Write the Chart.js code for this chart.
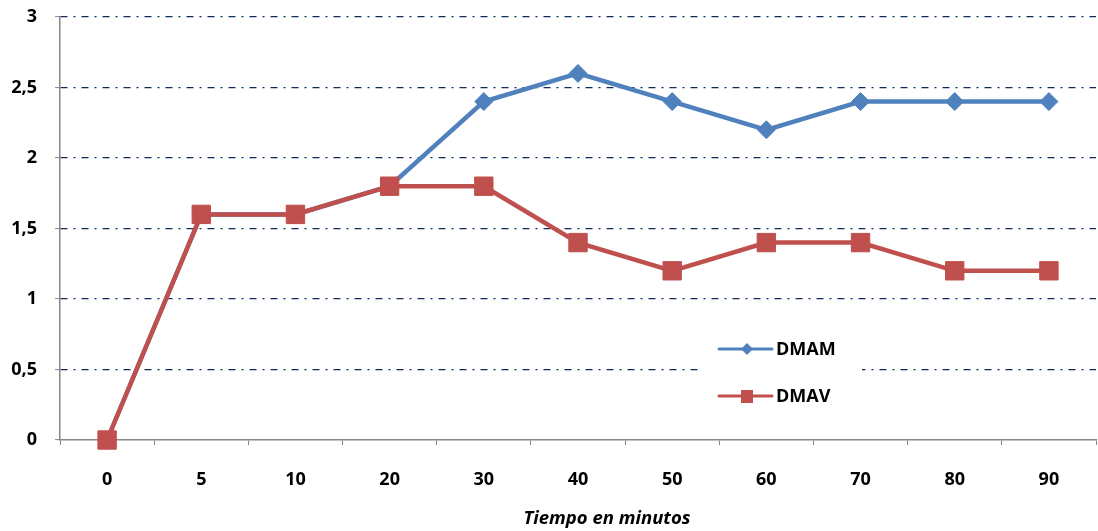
<!DOCTYPE html>
<html>
<head>
<meta charset="utf-8">
<script src="https://cdn.jsdelivr.net/npm/chart.js@4.4.1/dist/chart.umd.min.js"></script>
<style>
  html, body { margin: 0; padding: 0; background: #ffffff; }
  #wrap { width: 1098px; height: 531px; }
</style>
</head>
<body>
<div id="wrap"><canvas id="c" width="1098" height="531"></canvas></div>
<script>
// Minutes after start
const categories = ['0', '5', '10', '20', '30', '40', '50', '60', '70', '80', '90'];
// Series values
const dmam = [0, 1.6, 1.6, 1.8, 2.4, 2.6, 2.4, 2.2, 2.4, 2.4, 2.4];
const dmav = [0, 1.6, 1.6, 1.8, 1.8, 1.4, 1.2, 1.4, 1.4, 1.2, 1.2];
// Value axis
const yMin = 0, yMax = 3, yStep = 0.5;
const xTitle = 'Tiempo en minutos';

const BLUE = '#4F81BD';
const RED = '#C0504D';
const AXIS = '#868686';
const GRID = '#0F2A5C';
const FONT = "'Open Sans', 'Noto Sans', sans-serif";

// Legend drawn inside the plot area, with a line + marker sample per series
const innerLegend = {
  id: 'innerLegend',
  afterDatasetsDraw(chart) {
    const ctx = chart.ctx;
    const ca = chart.chartArea;
    const x0 = ca.left + 659;
    ctx.save();
    ctx.fillStyle = '#ffffff';
    ctx.fillRect(x0 - 19, 326, 162, 88);
    chart.data.datasets.forEach((ds, i) => {
      const y = 349 + i * 47;
      ctx.strokeStyle = ds.borderColor;
      ctx.lineWidth = 3;
      ctx.lineCap = 'round';
      ctx.beginPath();
      ctx.moveTo(x0, y);
      ctx.lineTo(x0 + 53, y);
      ctx.stroke();
      ctx.fillStyle = ds.backgroundColor;
      ctx.beginPath();
      if (ds.pointStyle === 'rectRot') {
        const r = 6;
        ctx.moveTo(x0 + 28, y - r);
        ctx.lineTo(x0 + 28 + r, y);
        ctx.lineTo(x0 + 28, y + r);
        ctx.lineTo(x0 + 28 - r, y);
        ctx.closePath();
        ctx.fill();
      } else {
        ctx.fillRect(x0 + 28 - 6, y - 6, 12, 13);
      }
      ctx.fillStyle = '#000000';
      ctx.font = "bold 18px " + FONT;
      ctx.textAlign = 'left';
      ctx.textBaseline = 'middle';
      ctx.fillText(ds.label, x0 + 57, y + 1);
    });
    ctx.restore();
  }
};

// Axis title placed under the category labels
const axisTitle = {
  id: 'axisTitle',
  afterDraw(chart) {
    const ctx = chart.ctx;
    ctx.save();
    ctx.fillStyle = '#000000';
    ctx.font = "italic bold 18.5px " + FONT;
    ctx.textAlign = 'center';
    ctx.textBaseline = 'middle';
    ctx.fillText(xTitle, 607, 519);
    ctx.restore();
  }
};

new Chart(document.getElementById('c'), {
  type: 'line',
  data: {
    labels: categories,
    datasets: [
      {
        label: 'DMAM',
        data: dmam,
        borderColor: BLUE,
        backgroundColor: BLUE,
        borderWidth: 4.5,
        pointStyle: 'rectRot',
        pointRadius: 9,
        pointBorderWidth: 1,
        pointBorderColor: BLUE,
        pointBackgroundColor: BLUE,
        tension: 0,
        clip: false,
        order: 2
      },
      {
        label: 'DMAV',
        data: dmav,
        borderColor: RED,
        backgroundColor: RED,
        borderWidth: 4.5,
        pointStyle: 'rect',
        pointRadius: 13,
        pointBorderWidth: 1,
        pointBorderColor: RED,
        pointBackgroundColor: RED,
        tension: 0,
        clip: false,
        order: 1
      }
    ]
  },
  options: {
    responsive: false,
    animation: false,
    devicePixelRatio: 1,
    layout: { autoPadding: false, padding: { top: 17, right: 2, left: 0, bottom: 0 } },
    plugins: {
      legend: { display: false },
      tooltip: { enabled: false },
      title: { display: false }
    },
    scales: {
      x: {
        type: 'category',
        offset: true,
        afterFit(scale) {
          scale.height = 91;
          scale.paddingLeft = 0;
          scale.paddingRight = 0;
        },
        grid: {
          display: true,
          offset: true,
          drawOnChartArea: false,
          drawTicks: true,
          tickLength: 5,
          tickColor: AXIS,
          tickWidth: 1,
          tickBorderDash: []
        },
        border: { display: true, color: AXIS, width: 1.5 },
        ticks: {
          color: '#000000',
          font: { family: FONT, size: 18, weight: 'bold' },
          padding: 24,
          maxRotation: 0,
          autoSkip: false
        }
      },
      y: {
        min: yMin,
        max: yMax,
        afterFit(scale) {
          scale.width = 60;
          scale.paddingTop = 0;
          scale.paddingBottom = 0;
        },
        grid: {
          display: true,
          color: ctx => (ctx.tick && ctx.tick.value === yMin ? 'rgba(0,0,0,0)' : GRID),
          lineWidth: 1.2,
          drawTicks: true,
          tickLength: 5,
          tickColor: AXIS,
          tickWidth: 1,
          tickBorderDash: []
        },
        border: { display: true, color: AXIS, width: 1.5, dash: [7, 6, 2, 6] },
        ticks: {
          stepSize: yStep,
          color: '#000000',
          font: { family: FONT, size: 18, weight: 'bold' },
          padding: 18,
          callback: v => String(v).replace('.', ',')
        }
      }
    }
  },
  plugins: [innerLegend, axisTitle]
});
</script>
</body>
</html>
